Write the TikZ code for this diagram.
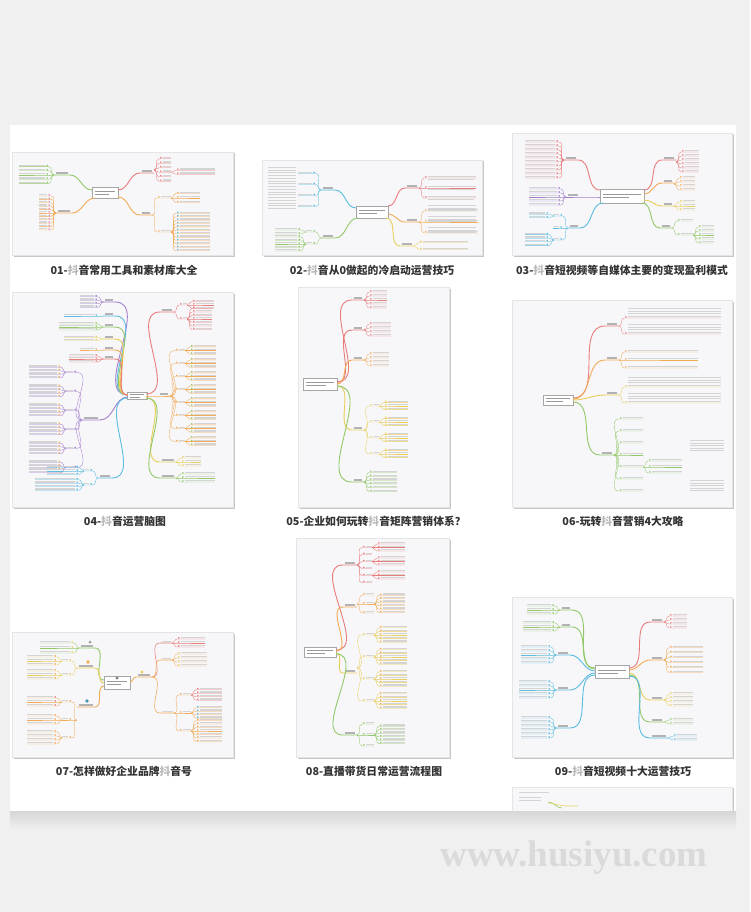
\documentclass[tikz,border=0pt]{standalone}
\usepackage{fontspec}
\newfontfamily\cjk{Noto Sans CJK SC}
\newfontfamily\wmfont{Liberation Serif}
\usetikzlibrary{calc}
\definecolor{pagebg}{HTML}{F0F0F0}
\definecolor{thumbbg}{HTML}{F7F7FA}
\definecolor{mmred}{HTML}{E97B78}
\definecolor{mmorange}{HTML}{F2AA55}
\definecolor{mmyellow}{HTML}{E9CF5A}
\definecolor{mmgreen}{HTML}{93C868}
\definecolor{mmblue}{HTML}{5BBCE0}
\definecolor{mmpurple}{HTML}{A37FCB}
\definecolor{mmpink}{HTML}{E58BB5}
\definecolor{wmark}{HTML}{DADADA}

% leaves fanning out to the right / left: line colour, dot colour, x, y, count, gap, bar length
\newcommand{\lvsR}[7]{%
  \foreach \i in {1,...,#5}{%
    \pgfmathsetmacro{\ly}{#4+(\i-(#5+1)/2)*#6}%
    \draw[#1, line width=.35pt] (#3,#4) to[out=0,in=180] (#3+5,\ly) -- (#3+9+#7,\ly);%
    \fill[#2] (#3+6.8,\ly-1.1) circle (.9pt);%
    \fill[ink] (#3+9,\ly-1.8) rectangle (#3+9+#7,\ly-.6);%
  }}
\newcommand{\lvsL}[7]{%
  \foreach \i in {1,...,#5}{%
    \pgfmathsetmacro{\ly}{#4+(\i-(#5+1)/2)*#6}%
    \draw[#1, line width=.35pt] (#3,#4) to[out=180,in=0] (#3-5,\ly) -- (#3-9-#7,\ly);%
    \fill[#2] (#3-6.8,\ly-1.1) circle (.9pt);%
    \fill[ink] (#3-9,\ly-1.8) rectangle (#3-9-#7,\ly-.6);%
  }}
% main branch: colour, from x, from y, to x, to y, label width
\newcommand{\limbR}[6]{%
  \draw[#1, line width=.9pt] (#2,#3) to[out=0,in=180] (#4,#5) -- (#4+#6,#5);%
  \fill[inkdark] (#4+2,#5-2.6) rectangle (#4+#6-2,#5-1.2);}
\newcommand{\limbL}[6]{%
  \draw[#1, line width=.9pt] (#2,#3) to[out=180,in=0] (#4,#5) -- (#4-#6,#5);%
  \fill[inkdark] (#4-2,#5-2.6) rectangle (#4-#6+2,#5-1.2);}
% thinner second-level branch: colour, from x, from y, to x, to y, label width
\newcommand{\twigR}[6]{%
  \draw[#1, line width=.55pt] (#2,#3) to[out=0,in=180] (#4,#5) -- (#4+#6,#5);%
  \fill[ink] (#4+2,#5-2.2) rectangle (#4+#6-1,#5-1);}
% block of text lines: x, y, lines, length
\newcommand{\blk}[4]{%
  \foreach \j in {1,...,#3}{\fill[ink] (#1,#2+2.6*\j-2.6) rectangle (#1+#4,#2+2.6*\j-1.6);}}
% thumbnail frame with shadow: x0, y0, x1, y1
\newcommand{\thumb}[4]{%
  \fill[tshadow] (#1+1.5,#2+1.5) rectangle (#3+1.6,#4+1.8);%
  \filldraw[thumb] (#1,#2) rectangle (#3,#4);}
% central node: name, x, y, w, h
\newcommand{\hubbox}[5]{%
  \node[hub, minimum width=#4, minimum height=#5] (#1) at (#2,#3) {};%
  \fill[black!40] (#2-#4/2+3,#3-1.9) rectangle (#2+#4/2-3,#3-.8);%
  \fill[black!40] (#2-#4/2+3,#3+.8) rectangle (#2+#4/6,#3+1.9);}

\begin{document}
\begin{tikzpicture}[x=1pt, y=-1pt,
  thumb/.style={fill=thumbbg, draw=black!10, line width=.4pt},
  tshadow/.style={fill=black!22},
  hub/.style={draw=black!35, fill=white, line width=.3pt, inner sep=0pt},
  ink/.style={black!17},
  inkdark/.style={black!30},
  captxt/.style={font=\cjk\bfseries\fontsize{10.8}{13}\selectfont, text=black!80},
]
\useasboundingbox (0,0) rectangle (750,912);
\fill[pagebg] (0,0) rectangle (750,912);

% white panel
\fill[black!6] (8,124) rectangle (738,811);
\fill[white] (10,125) rectangle (736,811);

% 01
\thumb{12}{152}{233}{255}
\hubbox{t1hub}{105}{193}{26}{11}
\limbL{mmgreen}{92}{190}{70}{175}{16}
\lvsL{mmgreen}{mmgreen}{54}{175}{5}{4.2}{26}
\limbL{mmorange}{95}{198}{72}{213}{16}
\lvsL{mmorange}{mmpink}{56}{213}{11}{3.4}{8}
\limbR{mmred}{118}{190}{140}{173}{14}
\lvsR{mmred}{mmred}{154}{170}{6}{4.5}{8}
\lvsR{mmred}{mmred}{171}{172.25}{2}{4}{35}
\limbR{mmorange}{118}{197}{140}{215}{12}
\lvsR{mmorange}{mmorange}{152}{215}{2}{34}{10}
\lvsR{mmorange}{mmorange}{171}{198}{3}{4.5}{20}
\lvsR{mmorange}{mmblue}{171}{232}{12}{3.4}{30}

% 02
\thumb{262}{160}{482}{255}
\hubbox{t2hub}{372}{212}{32}{12}
\limbL{mmblue}{356}{208}{335}{190}{14}
\lvsL{mmblue}{mmblue}{321}{190}{4}{11}{14}
\foreach \by in {167,178,189,200}{\blk{268}{\by}{4}{28}}
\limbL{mmgreen}{358}{218}{335}{238}{14}
\lvsL{mmgreen}{mmgreen}{321}{238}{2}{12}{6}
\lvsL{mmgreen}{mmgreen}{306}{232}{2}{4}{22}
\lvsL{mmgreen}{mmgreen}{306}{244}{5}{3.5}{22}
\limbR{mmred}{388}{206}{405}{188}{14}
\lvsR{mmred}{mmred}{419}{188}{3}{10}{48}
\foreach \by in {176,186,196}{\blk{428}{\by}{2}{46}}
\limbR{mmorange}{388}{214}{405}{222}{14}
\lvsR{mmorange}{mmorange}{419}{222}{3}{11}{50}
\foreach \by in {205,216,227}{\blk{428}{\by}{3}{48}}
\limbR{mmyellow}{386}{218}{400}{246}{14}
\lvsR{mmyellow}{mmyellow}{414}{246}{2}{7}{45}

% 03
\thumb{512}{133}{732}{255}
\hubbox{t3hub}{622}{196}{44}{14}
\limbL{mmred}{600}{190}{578}{160}{14}
\lvsL{mmred}{mmred}{564}{160}{10}{4}{30}
\limbL{mmpurple}{600}{197}{580}{197}{14}
\lvsL{mmpurple}{mmpurple}{566}{197}{5}{4}{28}
\limbL{mmblue}{603}{203}{580}{228}{12}
\lvsL{mmblue}{mmblue}{568}{228}{3}{12}{6}
\lvsL{mmblue}{mmblue}{554}{240}{4}{3.6}{20}
\lvsL{mmblue}{mmblue}{554}{216}{2}{3.6}{16}
\limbR{mmred}{644}{190}{662}{160}{14}
\lvsR{mmred}{mmred}{676}{162}{6}{4}{14}
\limbR{mmorange}{644}{194}{662}{183}{12}
\lvsR{mmorange}{mmorange}{674}{184}{4}{4}{12}
\limbR{mmyellow}{644}{200}{662}{206}{12}
\lvsR{mmyellow}{mmyellow}{674}{206}{3}{4}{12}
\limbR{mmgreen}{642}{203}{660}{228}{12}
\lvsR{mmgreen}{mmgreen}{672}{228}{2}{14}{12}
\lvsR{mmgreen}{mmgreen}{693}{235}{5}{4}{12}

% 04
\thumb{12}{292}{233}{507}
\hubbox{t4hub}{137}{396}{20}{7}
\limbL{mmpurple}{128}{395}{115}{302}{12}
\lvsL{mmpurple}{mmpurple}{103}{302}{4}{3.5}{14}
\limbL{mmblue}{128}{395}{115}{316}{12}
\lvsL{mmblue}{mmblue}{103}{316}{1}{3}{30}
\limbL{mmgreen}{128}{395}{115}{327}{12}
\lvsL{mmgreen}{mmgreen}{103}{327}{3}{3}{35}
\limbL{mmyellow}{128}{395}{115}{339}{12}
\lvsL{mmyellow}{mmyellow}{103}{339}{2}{3}{30}
\limbL{mmorange}{128}{395}{115}{350}{12}
\lvsL{mmorange}{mmorange}{103}{350}{1}{3}{14}
\limbL{mmred}{128}{395}{115}{359}{12}
\lvsL{mmred}{mmred}{103}{359}{3}{3}{25}
\limbL{mmpurple}{128}{397}{100}{420}{18}
\lvsL{mmpurple}{mmpurple}{82}{420}{6}{19}{8}
\foreach \sy in {372.5,391.5,410.5,429.5,448.5,467.5}{\lvsL{mmpurple}{mmorange}{66}{\sy}{4}{3.5}{28}}
\limbL{mmblue}{128}{398}{112}{478}{14}
\lvsL{mmblue}{mmblue}{98}{478}{2}{14}{6}
\lvsL{mmblue}{mmblue}{84}{471}{3}{3.5}{28}
\lvsL{mmblue}{mmblue}{84}{485}{4}{3.5}{40}
\limbR{mmred}{146}{394}{160}{312}{14}
\lvsR{mmred}{mmred}{174}{312}{2}{14}{4}
\lvsR{mmred}{mmred}{187}{305}{3}{3.5}{18}
\lvsR{mmred}{mmred}{187}{319}{7}{3.5}{16}
\limbR{mmorange}{146}{396}{158}{396}{12}
\lvsR{mmorange}{mmorange}{170}{396}{8}{13}{6}
\foreach \sy in {350.5,363.5,376.5,389.5,402.5,415.5,428.5,441.5}{\lvsR{mmorange}{mmgreen}{185}{\sy}{3}{3.6}{22}}
\limbR{mmyellow}{146}{398}{160}{462}{16}
\lvsR{mmyellow}{mmyellow}{176}{462}{3}{4}{16}
\limbR{mmgreen}{146}{398}{160}{478}{16}
\lvsR{mmgreen}{mmgreen}{176}{478}{3}{4}{30}

% 05
\thumb{298}{287}{449}{507}
\hubbox{t5hub}{320}{384}{34}{12}
\limbR{mmred}{337}{382}{352}{300}{12}
\lvsR{mmred}{mmred}{364}{300}{5}{4}{14}
\limbR{mmred}{337}{382}{352}{330}{12}
\lvsR{mmred}{mmred}{364}{330}{4}{4}{18}
\limbR{mmorange}{337}{384}{352}{360}{12}
\lvsR{mmorange}{mmorange}{364}{360}{4}{4}{16}
\limbR{mmyellow}{337}{386}{352}{430}{12}
\lvsR{mmyellow}{mmyellow}{364}{430}{4}{16}{6}
\foreach \sy in {406,422,438,454}{\lvsR{mmyellow}{mmyellow}{379}{\sy}{3}{3.6}{20}}
\limbR{mmgreen}{337}{386}{352}{482}{12}
\lvsR{mmgreen}{mmgreen}{364}{482}{6}{3.8}{24}

% 06
\thumb{512}{300}{732}{507}
\hubbox{t6hub}{558}{400}{30}{10}
\limbR{mmred}{573}{398}{605}{326}{14}
\lvsR{mmred}{mmred}{619}{326}{2}{16}{93}
\blk{628}{308}{3}{93}
\blk{628}{324}{3}{93}
\limbR{mmorange}{573}{399}{605}{360}{14}
\lvsR{mmorange}{mmorange}{619}{360}{3}{8}{70}
\limbR{mmyellow}{573}{400}{605}{395}{14}
\lvsR{mmyellow}{mmyellow}{619}{395}{2}{16}{93}
\blk{628}{377}{3}{93}
\blk{628}{393}{3}{93}
\limbR{mmgreen}{573}{402}{600}{455}{14}
\lvsR{mmgreen}{mmgreen}{614}{455}{7}{12}{20}
\lvsR{mmgreen}{mmgreen}{643}{467}{3}{6}{30}
\blk{690}{440}{5}{34}
\blk{690}{480}{5}{34}

% 07
\thumb{12}{632}{233}{757}
\hubbox{t7hub}{117}{683}{26}{13}
\fill[black!50] (117,678) circle (1.6pt);
\limbR{mmorange}{130}{682}{136}{677}{16}
\fill[mmyellow] (142,672) circle (1.6pt);
\twigR{mmred}{152}{677}{160}{643}{12}
\lvsR{mmred}{mmred}{172}{643}{3}{4}{24}
\twigR{mmorange}{152}{677}{160}{660}{12}
\lvsR{mmorange}{mmyellow}{172}{660}{4}{4}{26}
\twigR{mmorange}{152}{677}{160}{713}{14}
\lvsR{mmorange}{mmorange}{174}{713}{3}{18}{8}
\lvsR{mmred}{mmred}{191}{695}{4}{3.5}{22}
\lvsR{mmorange}{mmblue}{191}{713}{4}{3.5}{22}
\lvsR{mmorange}{mmorange}{191}{731}{7}{3.5}{22}
\limbL{mmgreen}{104}{680}{95}{648}{16}
\fill[black!40] (90,642) circle (1.5pt);
\lvsL{mmgreen}{mmyellow}{79}{648}{3}{5}{30}
\limbL{mmyellow}{104}{683}{95}{668}{18}
\fill[mmorange] (88,662) circle (1.8pt);
\lvsL{mmyellow}{mmyellow}{77}{668}{2}{14}{6}
\lvsL{mmyellow}{mmorange}{62}{661}{3}{4}{26}
\lvsL{mmyellow}{mmorange}{62}{675}{3}{4}{26}
\limbL{mmorange}{104}{686}{95}{707}{18}
\fill[mmblue!80!black] (87,701) circle (1.8pt);
\lvsL{mmorange}{mmorange}{77}{720}{3}{18}{6}
\lvsL{mmorange}{mmred}{62}{702}{3}{4}{26}
\lvsL{mmorange}{mmorange}{62}{720}{3}{4}{26}
\lvsL{mmorange}{mmorange}{62}{738}{4}{4}{26}

% 08
\thumb{296}{538}{449}{757}
\hubbox{t8hub}{320}{652}{32}{10}
\limbR{mmred}{336}{650}{343}{565}{14}
\lvsR{mmred}{mmred}{357}{565}{6}{7}{6}
\foreach \sy in {547.5,561.5,575.5}{\lvsR{mmred}{mmred}{372}{\sy}{3}{3.5}{24}}
\limbR{mmorange}{336}{651}{343}{607}{14}
\lvsR{mmorange}{mmorange}{357}{604}{3}{9}{8}
\lvsR{mmorange}{mmorange}{374}{604}{6}{3.5}{22}
\limbR{mmyellow}{336}{653}{343}{673}{14}
\lvsR{mmyellow}{mmyellow}{357}{668}{4}{22}{8}
\foreach \sy in {635,657,679,701}{\lvsR{mmyellow}{mmorange}{374}{\sy}{5}{3.6}{24}}
\limbR{mmgreen}{336}{654}{343}{735}{14}
\lvsR{mmgreen}{mmgreen}{357}{735}{3}{11}{8}
\lvsR{mmgreen}{mmgreen}{374}{735}{6}{3.5}{22}

% 09
\thumb{512}{597}{732}{757}
\hubbox{t9hub}{612}{672}{34}{13}
\limbL{mmgreen}{595}{668}{572}{610}{12}
\lvsL{mmgreen}{mmgreen}{560}{610}{3}{4}{24}
\limbL{mmgreen}{595}{669}{572}{627}{12}
\lvsL{mmgreen}{mmgreen}{560}{627}{3}{4}{28}
\limbL{mmblue}{595}{671}{570}{655}{14}
\lvsL{mmblue}{mmblue}{556}{655}{5}{4}{26}
\limbL{mmblue}{595}{673}{570}{690}{14}
\lvsL{mmblue}{mmblue}{556}{690}{5}{4}{28}
\limbL{mmblue}{595}{675}{570}{728}{14}
\lvsL{mmblue}{mmblue}{556}{728}{6}{4}{26}
\limbR{mmred}{629}{668}{650}{622}{14}
\lvsR{mmred}{mmred}{664}{622}{4}{4}{14}
\limbR{mmorange}{629}{670}{650}{660}{14}
\lvsR{mmorange}{mmorange}{664}{660}{6}{5}{30}
\limbR{mmyellow}{629}{673}{650}{700}{14}
\lvsR{mmyellow}{mmyellow}{664}{700}{4}{4}{20}
\limbR{mmgreen}{629}{675}{650}{722}{14}
\lvsR{mmgreen}{mmgreen}{664}{722}{2}{4}{20}
\limbR{mmblue}{629}{676}{650}{738}{18}
\lvsR{mmblue}{mmblue}{668}{738}{2}{4}{20}

% 10 (cut off by the panel)
\fill[tshadow] (732,788) rectangle (733.6,811);
\filldraw[thumb] (512,787) rectangle (732,811);
\blk{519}{792}{1}{30}
\blk{519}{797}{2}{22}
\draw[mmgreen, line width=.6pt] (548,802) to[out=0,in=180] (562,808);
\draw[mmyellow, line width=.6pt] (548,803) to[out=0,in=180] (566,806) -- (578,806);

% panel shadow
\shade[top color=black!16, bottom color=pagebg] (10,811) rectangle (736,830);

% captions
\node[captxt] (c01) at (124,270) {01-{\color{black!28}抖}音常用工具和素材库大全};
\node[captxt] (c02) at (372,270) {02-{\color{black!28}抖}音从0做起的冷启动运营技巧};
\node[captxt] (c03) at (622,270) {03-{\color{black!28}抖}音短视频等自媒体主要的变现盈利模式};
\node[captxt] (c04) at (125,521) {04-{\color{black!28}抖}音运营脑图};
\node[captxt] (c05) at (376,521) {05-企业如何玩转{\color{black!28}抖}音矩阵营销体系？};
\node[captxt] (c06) at (623,521) {06-玩转{\color{black!28}抖}音营销4大攻略};
\node[captxt] (c07) at (124,771) {07-怎样做好企业品牌{\color{black!28}抖}音号};
\node[captxt] (c08) at (374,771) {08-直播带货日常运营流程图};
\node[captxt] (c09) at (623,771) {09-{\color{black!28}抖}音短视频十大运营技巧};

% watermark
\filldraw[draw=black!5, fill=pagebg, rounded corners=4pt] (432,835) rectangle (716,878);
\node[font=\wmfont\bfseries\fontsize{37}{40}\selectfont, text=wmark, anchor=base] (wm) at (574,866) {www.husiyu.com};
\end{tikzpicture}
\end{document}
